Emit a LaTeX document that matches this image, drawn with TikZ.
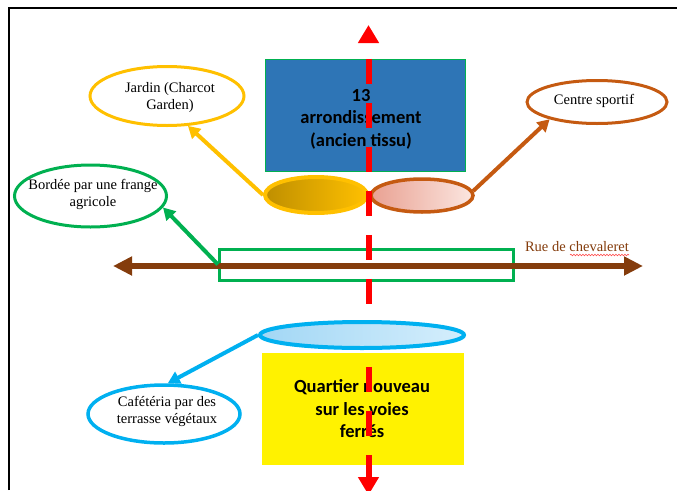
\documentclass[tikz,border=0pt]{standalone}
\usepackage{fontspec}
\setmainfont{Liberation Serif}
\newfontfamily\boxfont{Carlito}
\usetikzlibrary{shapes.geometric,arrows.meta,decorations.pathmorphing}

\definecolor{axisred}{HTML}{FF0000}
\definecolor{oldblue}{HTML}{2E75B6}
\definecolor{farmgreen}{HTML}{00B050}
\definecolor{gardengold}{HTML}{FFC000}
\definecolor{darkgold}{HTML}{BF8F00}
\definecolor{sportbrown}{HTML}{C55A11}
\definecolor{salmonleft}{HTML}{E9A192}
\definecolor{salmonright}{HTML}{FBE6E0}
\definecolor{cafecyan}{HTML}{00B0F0}
\definecolor{pondleft}{HTML}{A2D7F5}
\definecolor{pondright}{HTML}{D5EEFC}
\definecolor{ruebrown}{HTML}{843C0C}

\begin{document}
\begin{tikzpicture}[x=1pt,y=-1pt,
    bubble/.style={ellipse,draw,line width=3pt,fill=white,inner sep=0pt},
    bubbletext/.style={align=center,inner sep=0pt,font=\fontsize{14.5}{17}\selectfont},
    link/.style={line width=4pt,-{Triangle[length=12pt,width=13pt]}},
    bigbox/.style={rectangle,inner sep=0pt,minimum width=200pt,minimum height=112pt},
    boxtext/.style={align=center,inner sep=0pt,font=\boxfont\bfseries\fontsize{18.5}{22.5}\selectfont}]
        \useasboundingbox (0,0) rectangle (677,490);
        % page frame
        \draw[line width=2.5pt] (9,490) -- (9,8) -- (677,8);
        % street and its green strip
        \node[draw=farmgreen,line width=3pt,minimum width=294pt,minimum height=31pt,inner sep=0pt] at (366.5,264.5) (field) {};
        \coordinate (rue west) at (113,266);
        \coordinate (rue east) at (643,266);
        \draw[ruebrown,line width=6pt,{Triangle[length=19pt,width=18pt]}-{Triangle[length=19pt,width=18pt]}] (rue west) -- (rue east);
        \node[bubbletext,text=ruebrown] at (577,247) (rue) {Rue de chevaleret};
        \draw[axisred!70,line width=0.6pt,decorate,decoration={snake,amplitude=0.8pt,segment length=3pt}] (570,255) -- (629,255);
        % blocks
        \node[bigbox,fill=oldblue,draw=farmgreen,line width=1pt] at (365,115) (old) {};
        \node[boxtext] at (361,119) (oldtext) {13\\arrondissement\\(ancien tissu)};
        \node[bigbox,fill=yellow,minimum width=202pt] at (363,409) (new) {};
        \node[boxtext] at (362,409) (newtext) {Quartier nouveau\\sur les voies\\ferrés};
        % garden and sport ellipses
        \node[ellipse,draw=gardengold,line width=4pt,left color=darkgold,right color=gardengold,minimum width=102pt,minimum height=36pt] at (316,195) (gold) {};
        \node[ellipse,draw=sportbrown,line width=3.5pt,left color=salmonleft,right color=salmonright,minimum width=102pt,minimum height=33pt] at (422,195.5) (salmon) {};
        % labels
        \node[bubble,draw=gardengold,minimum width=154pt,minimum height=59pt] at (167,96) (jardin) {};
        \node[bubbletext] at (170,98) {Jardin (Charcot\\Garden)};
        \node[bubble,draw=sportbrown,minimum width=140pt,minimum height=43pt] at (597,102) (sport) {};
        \node[bubbletext] at (594,101) {Centre sportif};
        \node[bubble,draw=farmgreen,minimum width=152pt,minimum height=62pt] at (90.5,196) (farm) {};
        \node[bubbletext] at (93,194) {Bordée par une frange\\agricole};
        \node[bubble,draw=cafecyan,line width=3.5pt,minimum width=152pt,minimum height=58pt] at (164,414) (cafe) {};
        \node[bubbletext] at (167,411) {Cafétéria par des\\terrasse végétaux};
        % arrows to labels
        \draw[link,gardengold] (gold.west) -- (jardin.-55);
        \draw[link,sportbrown] (salmon.5) -- (sport.200);
        \draw[link,farmgreen] (field.west) -- (farm.-9);
        % railway axis
        \coordinate (axis top) at (368.5,25);
        \coordinate (axis bottom) at (368.5,495);
        \draw[axisred,line width=6pt,dash pattern=on 25pt off 19pt,dash phase=27pt,
            {Triangle[length=18pt,width=20pt]}-{Triangle[length=18pt,width=20pt]}] (axis top) -- (axis bottom);
        % cafeteria ellipse
        \node[ellipse,draw=cafecyan,line width=4pt,left color=pondleft,right color=pondright,minimum width=204pt,minimum height=26pt] at (362,335) (pond) {};
        \draw[link,cafecyan] (pond.west) -- (cafe.83);
    \end{tikzpicture}
\end{document}
